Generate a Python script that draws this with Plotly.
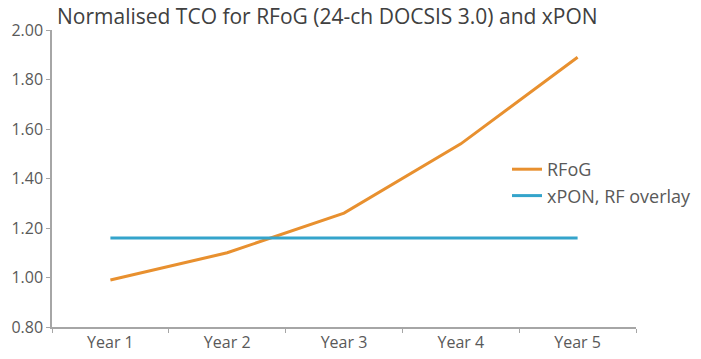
import plotly.graph_objects as go

years = ["Year 1", "Year 2", "Year 3", "Year 4", "Year 5"]
rfog = [0.99, 1.10, 1.26, 1.54, 1.89]
xpon = [1.16, 1.16, 1.16, 1.16, 1.16]
y_ticks = [0.80, 1.00, 1.20, 1.40, 1.60, 1.80, 2.00]

font_family = "'Open Sans', Lato, sans-serif"
axis_color = "#A6A6A6"
text_color = "#595959"

# plot area in pixels (left, right, top, bottom)
L, R, T, B = 52, 636, 30, 327
W, H = 701, 359

fig = go.Figure()
fig.add_trace(go.Scatter(x=years, y=rfog, mode="lines", name="RFoG",
                         line=dict(color="#E8902F", width=3)))
fig.add_trace(go.Scatter(x=years, y=xpon, mode="lines", name="xPON, RF overlay",
                         line=dict(color="#34A4CB", width=3)))

fig.update_layout(
    width=W, height=H,
    margin=dict(l=L, r=W - R, t=T, b=H - B, autoexpand=False),
    paper_bgcolor="white", plot_bgcolor="white",
    font=dict(family=font_family, color=text_color, size=14),
    title=dict(text="Normalised TCO for RFoG (24-ch DOCSIS 3.0) and xPON",
               x=57 / W, xanchor="left", xref="container",
               y=1 - 17 / H, yanchor="middle", yref="container",
               font=dict(size=21, color="#404040", family=font_family)),
    legend=dict(x=(507 - L) / (R - L), y=(B - 151) / (B - T),
                xanchor="left", yanchor="top", bgcolor="rgba(0,0,0,0)",
                font=dict(size=18, color=text_color), tracegroupgap=0,
                itemwidth=30),
    showlegend=True,
)

fig.update_xaxes(
    type="category", range=[-0.5, 4.5], automargin=False,
    showline=True, linecolor=axis_color, linewidth=1.5,
    ticks="outside", tickson="boundaries", ticklen=4, tickcolor=axis_color,
    showgrid=False, zeroline=False,
    tickfont=dict(size=16, color=text_color),
)
fig.update_yaxes(
    range=[0.8, 2.0], tickvals=y_ticks, automargin=False,
    ticktext=[f"{v:.2f}" for v in y_ticks],
    showline=True, linecolor=axis_color, linewidth=1.5,
    ticks="outside", ticklen=4, tickcolor=axis_color,
    showgrid=False, zeroline=False,
    tickfont=dict(size=16, color=text_color),
)

fig.write_html("out.html")
